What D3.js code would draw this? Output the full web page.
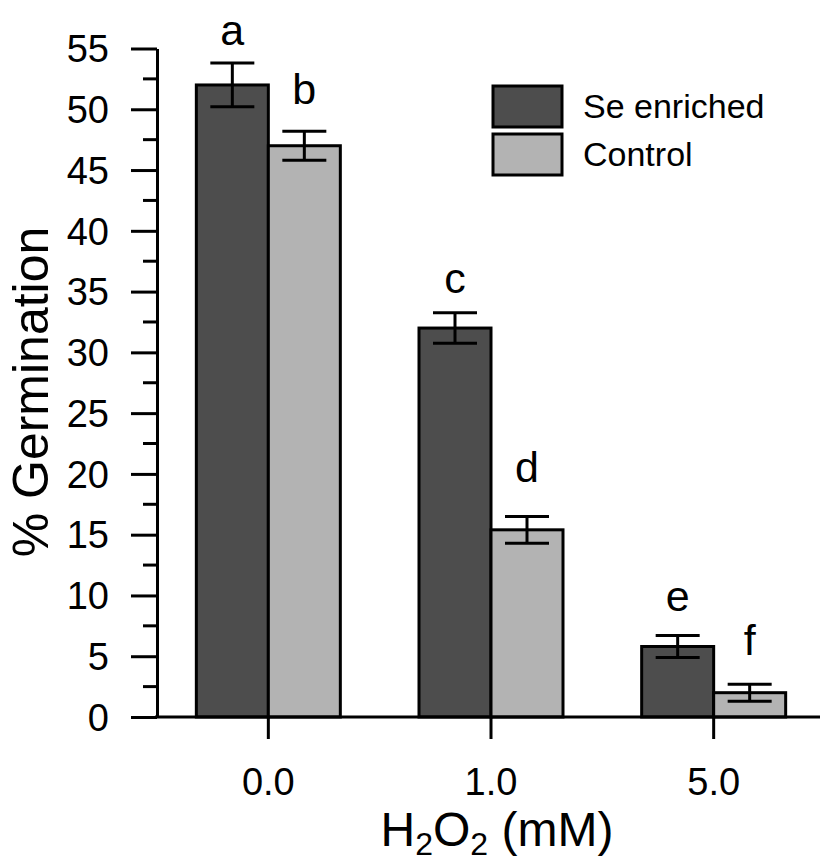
<!DOCTYPE html>
<html>
<head>
<meta charset="utf-8">
<script src="https://cdn.jsdelivr.net/npm/d3@7"></script>
<style>
  body { margin: 0; background: #fff; }
  text { font-family: "Liberation Sans", Arial, sans-serif; fill: #000; }
</style>
</head>
<body>
<div id="chart"></div>
<script>
// data
var doses = ["0.0", "1.0", "5.0"];
var series = ["Se enriched", "Control"];
var seValues = [52.0, 32.0, 5.8];
var seErrors = [1.8, 1.25, 0.9];
var ctrlValues = [47.0, 15.4, 2.0];
var ctrlErrors = [1.2, 1.1, 0.7];
var seLetters = ["a", "c", "e"];
var ctrlLetters = ["b", "d", "f"];
// letter baselines, in % germination units
var seLetterAt = [55.3, 34.9, 8.7];
var ctrlLetterAt = [50.4, 19.3, 5.1];
var yTicks = [0, 5, 10, 15, 20, 25, 30, 35, 40, 45, 50, 55];

var width = 827, height = 867;
var colors = {"Se enriched": "#4d4d4d", "Control": "#b3b3b3"};

var svg = d3.select("#chart")
    .append("svg")
    .attr("width", width)
    .attr("height", height);

var y = d3.scaleLinear().domain([0, 55]).range([717, 48.5]);
var x = d3.scaleBand().domain(doses).range([157, 825]).padding(0);
var x1 = d3.scaleBand().domain(series).range([-72, 72]);

var rows = [];
doses.forEach(function(d, i) {
    rows.push({dose: d, s: "Se enriched", v: seValues[i], e: seErrors[i], letter: seLetters[i], ly: seLetterAt[i]});
    rows.push({dose: d, s: "Control", v: ctrlValues[i], e: ctrlErrors[i], letter: ctrlLetters[i], ly: ctrlLetterAt[i]});
});
function cx(r) { return x(r.dose) + x.bandwidth() / 2; }

// bars
svg.selectAll("rect.bar")
    .data(rows)
    .enter()
    .append("rect")
    .attr("class", "bar")
    .attr("x", function(r) { return cx(r) + x1(r.s); })
    .attr("y", function(r) { return y(r.v); })
    .attr("width", x1.bandwidth())
    .attr("height", function(r) { return y(0) - y(r.v); })
    .attr("fill", function(r) { return colors[r.s]; })
    .attr("stroke", "#000")
    .attr("stroke-width", 3);

// error bars
var eb = svg.selectAll("g.err")
    .data(rows)
    .enter()
    .append("g")
    .attr("class", "err")
    .attr("stroke", "#000")
    .attr("stroke-width", 3);
eb.append("line")
    .attr("x1", function(r) { return cx(r) + x1(r.s) + x1.bandwidth() / 2; })
    .attr("x2", function(r) { return cx(r) + x1(r.s) + x1.bandwidth() / 2; })
    .attr("y1", function(r) { return y(r.v + r.e); })
    .attr("y2", function(r) { return y(r.v - r.e); });
[1, -1].forEach(function(sgn) {
    eb.append("line")
        .attr("x1", function(r) { return cx(r) + x1(r.s) + x1.bandwidth() / 2 - 22; })
        .attr("x2", function(r) { return cx(r) + x1(r.s) + x1.bandwidth() / 2 + 22; })
        .attr("y1", function(r) { return y(r.v + sgn * r.e); })
        .attr("y2", function(r) { return y(r.v + sgn * r.e); });
});

// significance letters
svg.selectAll("text.letter")
    .data(rows)
    .enter()
    .append("text")
    .attr("class", "letter")
    .attr("x", function(r) { return cx(r) + x1(r.s) + x1.bandwidth() / 2; })
    .attr("y", function(r) { return y(r.ly); })
    .attr("text-anchor", "middle")
    .style("font-size", "43px")
    .text(function(r) { return r.letter; });

// y axis
var yAxis = svg.append("g")
    .attr("transform", "translate(157,0)")
    .call(d3.axisLeft(y).tickValues(yTicks).tickSize(26).tickPadding(22).tickSizeOuter(0));
yAxis.select(".domain").attr("stroke-width", 3);
yAxis.selectAll(".tick line").attr("stroke-width", 3);
yAxis.selectAll(".tick text")
    .style("font-family", "Liberation Sans, Arial, sans-serif")
    .style("font-size", "38px")
    .attr("dy", "0.35em");
// minor ticks
svg.selectAll("line.minor")
    .data(yTicks.slice(0, -1))
    .enter()
    .append("line")
    .attr("class", "minor")
    .attr("x1", 143).attr("x2", 157)
    .attr("y1", function(d) { return y(d + 2.5); })
    .attr("y2", function(d) { return y(d + 2.5); })
    .attr("stroke", "#000")
    .attr("stroke-width", 3);

// x axis
svg.append("line")
    .attr("x1", 155).attr("x2", 820)
    .attr("y1", y(0)).attr("y2", y(0))
    .attr("stroke", "#000").attr("stroke-width", 3);
svg.selectAll("line.xtick")
    .data(doses)
    .enter()
    .append("line")
    .attr("class", "xtick")
    .attr("x1", function(d) { return x(d) + x.bandwidth() / 2; })
    .attr("x2", function(d) { return x(d) + x.bandwidth() / 2; })
    .attr("y1", y(0)).attr("y2", y(0) + 22)
    .attr("stroke", "#000").attr("stroke-width", 3);
svg.selectAll("text.xlab")
    .data(doses)
    .enter()
    .append("text")
    .attr("class", "xlab")
    .attr("x", function(d) { return x(d) + x.bandwidth() / 2; })
    .attr("y", 795)
    .attr("text-anchor", "middle")
    .style("font-size", "38px")
    .text(function(d) { return d; });

// axis titles
var xt = svg.append("text")
    .attr("x", 497)
    .attr("y", 846)
    .attr("text-anchor", "middle")
    .style("font-size", "48px");
xt.append("tspan").text("H");
xt.append("tspan").attr("dy", 9).style("font-size", "32px").text("2");
xt.append("tspan").attr("dy", -9).text("O");
xt.append("tspan").attr("dy", 9).style("font-size", "32px").text("2");
xt.append("tspan").attr("dy", -9).text(" (mM)");

svg.append("text")
    .attr("transform", "translate(48,392) rotate(-90)")
    .attr("text-anchor", "middle")
    .style("font-size", "50px")
    .text("% Germination");

// legend
var legend = svg.selectAll("g.legend")
    .data(series)
    .enter()
    .append("g")
    .attr("class", "legend")
    .attr("transform", function(d, i) { return "translate(493," + (86 + i * 48) + ")"; });
legend.append("rect")
    .attr("width", 69)
    .attr("height", 41)
    .attr("fill", function(d) { return colors[d]; })
    .attr("stroke", "#000")
    .attr("stroke-width", 3);
legend.append("text")
    .attr("x", 90)
    .attr("y", 32)
    .style("font-size", "34px")
    .text(function(d) { return d; });
</script>
</body>
</html>
